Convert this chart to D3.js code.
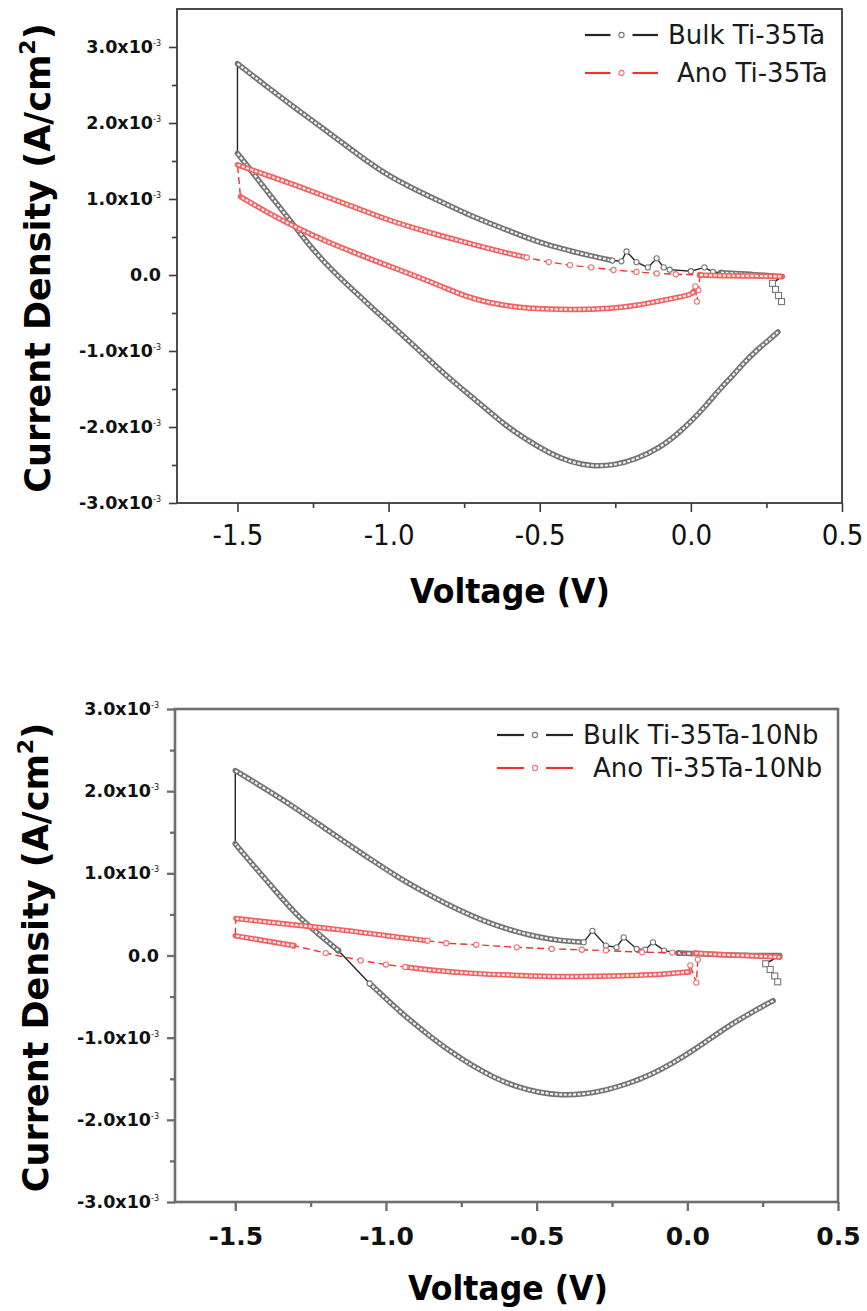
<!DOCTYPE html>
<html>
<head>
<meta charset="utf-8">
<script src="https://cdn.jsdelivr.net/npm/d3@7"></script>
<style>
  body { margin: 0; background: #fff; }
  svg { display: block; font-family: "DejaVu Sans", Verdana, sans-serif; }
</style>
</head>
<body>
<svg id="chart" width="867" height="1311"></svg>
<script>
// current density values are in units of 1e-3 A/cm2, voltage in V
var xTicks = [-1.5, -1.0, -0.5, 0.0, 0.5]
var xMinor = [-1.25, -0.75, -0.25, 0.25]
var yTicks = [-3, -2, -1, 0, 1, 2, 3]
var yMinor = [-2.5, -1.5, -0.5, 0.5, 1.5, 2.5]

/* ---- Ti-35Ta ---- */
var ta35BulkLower = [[0.288,-0.75],[0.26,-0.85],[0.22,-0.98],[0.174,-1.16],[0.14,-1.32],[0.102,-1.47],[0.05,-1.72],[0.0,-1.93],
  [-0.041,-2.08],[-0.1,-2.27],[-0.185,-2.43],[-0.25,-2.50],[-0.328,-2.52],[-0.4,-2.46],[-0.47,-2.34],[-0.543,-2.17],
  [-0.62,-1.96],[-0.686,-1.73],[-0.76,-1.49],[-0.83,-1.25],[-0.9,-0.99],[-0.973,-0.72],[-1.05,-0.45],[-1.117,-0.20],
  [-1.19,0.07],[-1.26,0.38],[-1.293,0.55],[-1.35,0.84],[-1.4,1.09],[-1.45,1.35],[-1.5,1.6]]
var ta35BulkUpper = [[-1.5,2.78],[-1.4,2.47],[-1.3,2.17],[-1.2,1.88],[-1.1,1.58],[-1.0,1.30],[-0.9,1.10],[-0.83,0.97],
  [-0.76,0.84],[-0.686,0.71],[-0.6,0.58],[-0.543,0.49],[-0.47,0.39],[-0.4,0.32],[-0.33,0.25],[-0.26,0.19]]
var ta35BulkSpikes = [[-0.26,0.19],[-0.23,0.18],[-0.213,0.31],[-0.18,0.17],[-0.142,0.10],[-0.113,0.22],[-0.09,0.10],
  [-0.07,0.07],[0.0,0.05],[0.045,0.10],[0.073,0.04],[0.1,0.03]]
var ta35BulkTail = [[0.1,0.03],[0.2,0.01],[0.3,-0.02]]
var ta35BulkSquares = [[0.3,-0.02],[0.27,-0.11],[0.28,-0.19],[0.29,-0.27],[0.3,-0.35]]

var ta35AnoFeature = [[0.03,0.0],[0.025,-0.2],[0.02,-0.35],[0.015,-0.15],[0.01,-0.22]]
var ta35AnoLower = [[0.01,-0.22],[0.0,-0.26],[-0.05,-0.30],[-0.113,-0.35],[-0.18,-0.40],[-0.256,-0.44],[-0.4,-0.46],
  [-0.543,-0.44],[-0.6,-0.41],[-0.686,-0.35],[-0.76,-0.26],[-0.83,-0.14],[-0.9,-0.03],[-0.973,0.08],[-1.04,0.18],
  [-1.117,0.30],[-1.2,0.43],[-1.293,0.60],[-1.4,0.82],[-1.49,1.03]]
var ta35AnoUpper = [[-1.5,1.45],[-1.4,1.31],[-1.293,1.16],[-1.2,1.02],[-1.117,0.90],[-1.0,0.72],[-0.9,0.60],[-0.83,0.52],
  [-0.7,0.38],[-0.6,0.28],[-0.543,0.23]]
var ta35AnoUpperSparse = [[-0.543,0.23],[-0.47,0.17],[-0.4,0.13],[-0.33,0.10],[-0.256,0.066],[-0.18,0.04],[-0.113,0.02],
  [-0.05,0.01],[0.03,0.0]]
var ta35AnoTail = [[0.03,0.0],[0.1,-0.01],[0.2,-0.01],[0.303,-0.02]]

/* ---- Ti-35Ta-10Nb ---- */
var nbBulkLower = [[0.285,-0.55],[0.204,-0.71],[0.15,-0.83],[0.10,-0.95],[0.03,-1.13],[-0.048,-1.31],[-0.12,-1.45],
  [-0.196,-1.56],[-0.27,-1.64],[-0.344,-1.69],[-0.418,-1.70],[-0.49,-1.67],[-0.566,-1.60],[-0.64,-1.49],[-0.714,-1.34],
  [-0.79,-1.16],[-0.862,-0.96],[-0.95,-0.70],[-1.054,-0.34]]
var nbBulkLowerGap = [[-1.054,-0.34],[-1.158,0.06]]
var nbBulkLowerEnd = [[-1.158,0.06],[-1.23,0.28],[-1.3,0.50],[-1.4,0.93],[-1.469,1.22],[-1.5,1.36]]
var nbBulkUpper = [[-1.5,2.25],[-1.4,2.03],[-1.285,1.76],[-1.2,1.54],[-1.1,1.29],[-1.054,1.18],[-0.96,0.95],[-0.862,0.75],
  [-0.79,0.61],[-0.714,0.48],[-0.64,0.37],[-0.566,0.29],[-0.49,0.22],[-0.418,0.18],[-0.344,0.16]]
var nbBulkSpikes = [[-0.344,0.16],[-0.315,0.30],[-0.27,0.12],[-0.235,0.10],[-0.211,0.22],[-0.168,0.08],[-0.14,0.07],
  [-0.114,0.16],[-0.077,0.06],[-0.03,0.03]]
var nbBulkTail = [[-0.03,0.03],[0.1,0.01],[0.2,0.0],[0.307,0.0]]
var nbBulkSquares = [[0.307,0.0],[0.26,-0.1],[0.275,-0.17],[0.29,-0.25],[0.3,-0.32]]

var nbAnoFeature = [[0.035,-0.05],[0.03,-0.33],[0.01,-0.12],[0.004,-0.20]]
var nbAnoLower = [[0.004,-0.20],[-0.122,-0.24],[-0.25,-0.25],[-0.418,-0.26],[-0.55,-0.245],[-0.714,-0.22],[-0.85,-0.18],
  [-0.936,-0.14]]
var nbAnoLowerSparse = [[-0.936,-0.14],[-1.0,-0.11],[-1.084,-0.06],[-1.2,0.03],[-1.306,0.12]]
var nbAnoLowerEnd = [[-1.306,0.12],[-1.4,0.18],[-1.5,0.24]]
var nbAnoUpper = [[-1.498,0.45],[-1.4,0.41],[-1.3,0.37],[-1.158,0.32],[-1.0,0.24],[-0.862,0.18]]
var nbAnoUpperSparse = [[-0.862,0.18],[-0.8,0.15],[-0.7,0.13],[-0.566,0.10],[-0.45,0.08],[-0.35,0.07],[-0.27,0.06],
  [-0.15,0.04],[-0.05,0.035],[0.026,0.03]]
var nbAnoTail = [[0.026,0.03],[0.1,0.01],[0.2,0.0],[0.307,-0.02]]

var seriesNames = [["Bulk Ti-35Ta", "Ano Ti-35Ta"], ["Bulk Ti-35Ta-10Nb", "Ano Ti-35Ta-10Nb"]]

var panels = [
  { left: 177, right: 842, top: 9, bottom: 503, yDomain: [-3, 3.5], axisColor: "#3a3a3a", axisWidth: 1.8,
    xLabelBold: false, xLabelSize: 29, xLabelY: 545, titleY: 603, titleX: 510, yTitleX: 50,
    legendY: [35, 73], legendSym: [585, 658], legendText: [668, 677], names: seriesNames[0],
    bulk: [{pts: ta35BulkLower, kind: "dense"}, {pts: ta35BulkUpper, kind: "dense"}, {pts: ta35BulkSpikes, kind: "sparse"},
           {pts: ta35BulkTail, kind: "dense"}, {pts: ta35BulkSquares, kind: "square"}],
    ano: [{pts: ta35AnoFeature, kind: "sparse"}, {pts: ta35AnoLower, kind: "dense"}, {pts: ta35AnoUpper, kind: "dense"},
          {pts: ta35AnoUpperSparse, kind: "sparse"}, {pts: ta35AnoTail, kind: "dense"}] },
  { left: 175, right: 838, top: 709, bottom: 1202, yDomain: [-3, 3], axisColor: "#6e6e6e", axisWidth: 2.6,
    xLabelBold: true, xLabelSize: 25, xLabelY: 1245, titleY: 1300, titleX: 508, yTitleX: 48,
    legendY: [735, 768], legendSym: [497, 573], legendText: [583, 593], names: seriesNames[1],
    bulk: [{pts: nbBulkLower, kind: "dense"}, {pts: nbBulkLowerGap, kind: "sparse"}, {pts: nbBulkLowerEnd, kind: "dense"},
           {pts: nbBulkUpper, kind: "dense"}, {pts: nbBulkSpikes, kind: "sparse"}, {pts: nbBulkTail, kind: "dense"},
           {pts: nbBulkSquares, kind: "square"}],
    ano: [{pts: nbAnoFeature, kind: "sparse"}, {pts: nbAnoLower, kind: "dense"}, {pts: nbAnoLowerSparse, kind: "sparse"},
          {pts: nbAnoLowerEnd, kind: "dense"}, {pts: nbAnoUpper, kind: "dense"}, {pts: nbAnoUpperSparse, kind: "sparse"},
          {pts: nbAnoTail, kind: "dense"}] }
]

var styles = {
  bulk: { line: "#262626", outer: "#737373", inner: "#f2f2f2", marker: "#777", dash: null },
  ano:  { line: "#ee3333", outer: "#f06262", inner: "#fde9e9", marker: "#f07272", dash: "7,4" }
}

var svg = d3.select("#chart")

function drawSeries(g, x, y, segments, st){
  var thin = d3.line().x(function(d){ return x(d[0]) }).y(function(d){ return y(d[1]) })
  var smooth = d3.line().x(function(d){ return x(d[0]) }).y(function(d){ return y(d[1]) }).curve(d3.curveBasis)
  var all = []
  segments.forEach(function(s){ all = all.concat(s.pts) })

  // connecting line underneath
  g.append("path").attr("d", thin(all)).attr("fill", "none")
    .attr("stroke", st.line).attr("stroke-width", 1.4)
    .attr("stroke-dasharray", st.dash)

  segments.forEach(function(s){
    if (s.kind == "dense"){
      // dense open-circle markers look like a hollow band
      g.append("path").attr("d", smooth(s.pts)).attr("fill", "none")
        .attr("stroke", st.outer).attr("stroke-width", 5.5).attr("stroke-linecap", "round")
      g.append("path").attr("d", smooth(s.pts)).attr("fill", "none")
        .attr("stroke", st.inner).attr("stroke-width", 2.2).attr("stroke-dasharray", "3,1.6")
    } else if (s.kind == "sparse"){
      g.selectAll(null).data(s.pts).enter().append("circle")
        .attr("cx", function(d){ return x(d[0]) }).attr("cy", function(d){ return y(d[1]) })
        .attr("r", 2.6).attr("fill", "#fff").attr("stroke", st.marker).attr("stroke-width", 1.1)
    } else {
      g.append("path").attr("d", thin(s.pts)).attr("fill", "none").attr("stroke", st.line).attr("stroke-width", 1.2)
      g.selectAll(null).data(s.pts.slice(1)).enter().append("rect")
        .attr("x", function(d){ return x(d[0]) - 3 }).attr("y", function(d){ return y(d[1]) - 3 })
        .attr("width", 6).attr("height", 6).attr("fill", "#fff").attr("stroke", st.marker).attr("stroke-width", 1.1)
    }
  })
}

function drawPanel(p){
  var x = d3.scaleLinear().domain([-1.7, 0.5]).range([p.left, p.right])
  var y = d3.scaleLinear().domain(p.yDomain).range([p.bottom, p.top])
  var g = svg.append("g")

  /* data */
  var plot = g.append("g")
  drawSeries(plot, x, y, p.bulk, styles.bulk)
  drawSeries(plot, x, y, p.ano, styles.ano)

  /* frame */
  g.append("rect").attr("x", p.left).attr("y", p.top)
    .attr("width", p.right - p.left).attr("height", p.bottom - p.top)
    .attr("fill", "none").attr("stroke", p.axisColor).attr("stroke-width", p.axisWidth)

  /* x axis */
  var xa = g.append("g").attr("transform", "translate(0," + p.bottom + ")")
    .call(d3.axisBottom(x).tickValues(xTicks).tickSize(9).tickPadding(14)
      .tickFormat(function(d){ return d.toFixed(1) }))
  var xm = g.append("g").attr("transform", "translate(0," + p.bottom + ")")
    .call(d3.axisBottom(x).tickValues(xMinor).tickSize(5).tickFormat(""))
  ;[xa, xm].forEach(function(a){
    a.select(".domain").remove()
    a.selectAll("line").attr("stroke", p.axisColor).attr("stroke-width", p.axisWidth * 0.9)
  })
  xa.selectAll("text").attr("y", null).attr("dy", null)
    .attr("transform", "translate(0," + (p.xLabelY - p.bottom) + ")")
    .attr("font-family", "'DejaVu Sans', Verdana, sans-serif")
    .attr("font-stretch", p.xLabelBold ? "normal" : "condensed")
    .attr("font-size", p.xLabelSize).attr("font-weight", p.xLabelBold ? "bold" : "normal")
    .attr("fill", "#111")

  /* y axis */
  var ya = g.append("g").attr("transform", "translate(" + p.left + ",0)")
    .call(d3.axisLeft(y).tickValues(yTicks).tickSize(8).tickPadding(10).tickFormat(""))
  var ym = g.append("g").attr("transform", "translate(" + p.left + ",0)")
    .call(d3.axisLeft(y).tickValues(yMinor).tickSize(5).tickFormat(""))
  ;[ya, ym].forEach(function(a){
    a.select(".domain").remove()
    a.selectAll("line").attr("stroke", p.axisColor).attr("stroke-width", p.axisWidth * 0.9)
  })
  ya.selectAll(".tick text")
    .attr("font-family", "'DejaVu Sans', Verdana, sans-serif")
    .attr("font-size", 17.5).attr("font-weight", "bold").attr("fill", "#111")
    .attr("x", -16)
    .each(function(d){
      var t = d3.select(this)
      if (d == 0){ t.text("0.0"); return }
      t.append("tspan").text(d.toFixed(1) + "x10")
      t.append("tspan").attr("dy", -7).attr("font-size", 8).attr("font-weight", "normal").text("-3")
    })

  /* axis titles */
  g.append("text").attr("x", p.titleX).attr("y", p.titleY)
    .attr("text-anchor", "middle").attr("font-size", 33).attr("font-weight", "bold")
    .attr("textLength", 200).attr("lengthAdjust", "spacingAndGlyphs")
    .text("Voltage (V)")
  var yt = g.append("text")
    .attr("transform", "translate(" + p.yTitleX + "," + ((p.top + p.bottom) / 2 + 2) + ") rotate(-90)")
    .attr("text-anchor", "middle").attr("font-size", 35).attr("font-weight", "bold")
  yt.append("tspan").text("Current Density (A/cm")
  yt.append("tspan").attr("dy", -15).attr("font-size", 22).text("2")
  yt.append("tspan").attr("dy", 15).text(")")

  /* legend */
  var keys = ["bulk", "ano"]
  keys.forEach(function(k, i){
    var st = styles[k], ly = p.legendY[i]
    var x1 = p.legendSym[0], x2 = p.legendSym[1], xc = (x1 + x2) / 2
    var lg = g.append("g")
    lg.append("line").attr("x1", x1).attr("x2", xc - 11).attr("y1", ly).attr("y2", ly)
      .attr("stroke", st.line).attr("stroke-width", 2.2)
    lg.append("line").attr("x1", xc + 11).attr("x2", x2).attr("y1", ly).attr("y2", ly)
      .attr("stroke", st.line).attr("stroke-width", 2.2)
    lg.append("circle").attr("cx", xc).attr("cy", ly).attr("r", 2.6)
      .attr("fill", "#fff").attr("stroke", st.marker).attr("stroke-width", 1.1)
    lg.append("text").attr("x", p.legendText[i]).attr("y", ly + 9)
      .attr("font-size", 26).attr("fill", "#1a1a1a").text(p.names[i])
  })
}

panels.forEach(drawPanel)
</script>
</body>
</html>
